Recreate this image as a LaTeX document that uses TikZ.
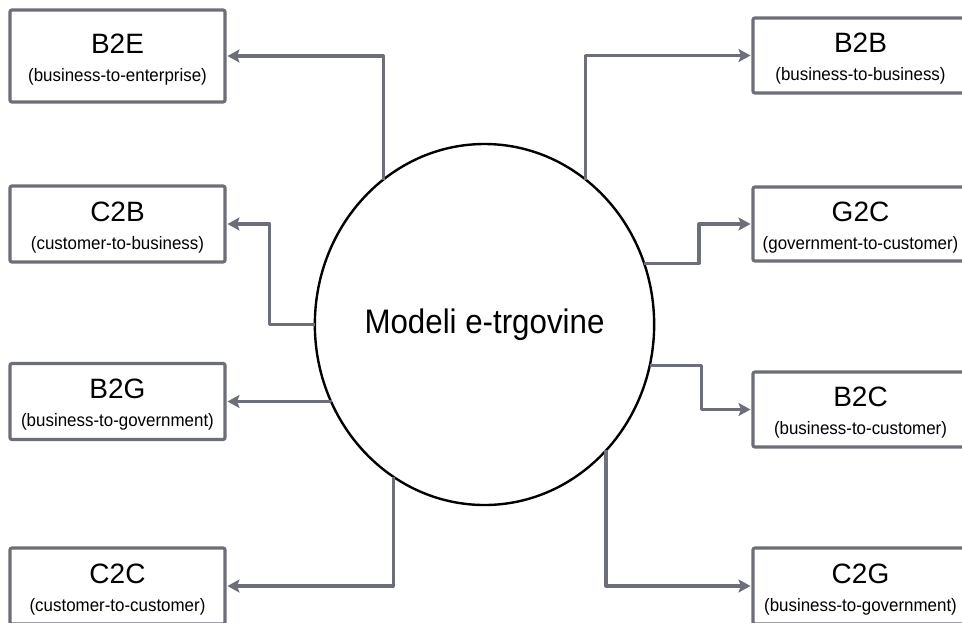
\documentclass[tikz,border=0pt]{standalone}
\usepackage{fontspec}
\setmainfont{Liberation Sans}
\newfontfamily\hubfont[FakeStretch=0.92]{Liberation Sans}
\newfontfamily\subfont[FakeStretch=0.94]{Liberation Sans}
\usetikzlibrary{shapes.geometric,arrows.meta,calc}
\definecolor{edgegray}{RGB}{108,111,120}

% one model box: name, centre x, centre y, height, title, subtitle
\newcommand\modelbox[6]{%
  \node[box, minimum height=#4] (#1) at (#2,#3) {};
  \node[titletext] (#1-title) at ($(#1.center)+(0,-3)$) {#5};
  \node[subtext] (#1-sub) at ($(#1.center)+(0,25)$) {#6};
}

\begin{document}
\begin{tikzpicture}[x=1pt,y=-1pt,
  box/.style={draw=edgegray, line width=3.2pt, rounded corners=2pt,
    minimum width=215pt, minimum height=76pt, inner sep=0pt, outer sep=2.5pt, fill=white},
  hub/.style={ellipse, draw=black, line width=2.4pt, minimum width=335pt,
    minimum height=361pt, inner sep=0pt, outer sep=0pt},
  conn/.style={draw=edgegray, line width=3.2pt, line join=round,
    -{Stealth[length=12pt,width=13pt,inset=2.5pt]}},
  titletext/.style={anchor=base, inner sep=0pt, font=\fontsize{28}{30}\selectfont},
  subtext/.style={anchor=base, inner sep=0pt, font=\subfont\fontsize{18}{20}\selectfont}]

\useasboundingbox (0,0) rectangle (962,622);
\clip (0,0) rectangle (962,622);
\fill[white] (0,0) rectangle (962,622);

% central hub
\node[hub, font=\hubfont\fontsize{34}{36}\selectfont] (ell) at (484.5,324.5) {Modeli e-trgovine};

% left column
\modelbox{b2e}{117.5}{56}{92}{B2E}{(business-to-enterprise)}
\modelbox{c2b}{117.5}{224}{76}{C2B}{(customer-to-business)}
\modelbox{b2g}{117.5}{401.5}{76}{B2G}{(business-to-government)}
\modelbox{c2c}{117.5}{586}{76}{C2C}{(customer-to-customer)}

% right column
\modelbox{b2b}{860.5}{55.5}{75}{B2B}{(business-to-business)}
\modelbox{g2c}{860.5}{224}{74}{G2C}{(government-to-customer)}
\modelbox{b2c}{860.5}{409.5}{75}{B2C}{(business-to-customer)}
\modelbox{c2g}{860.5}{586}{76}{C2G}{(business-to-government)}

% connectors
\draw[conn] (ell.125.25) |- (b2e);
\draw[conn] (ell.west) -- ++(-45,0) |- (c2b);
\draw[conn] (ell.206.9) |- (b2g);
\draw[conn] (ell.239.6) |- (c2c);
\draw[conn] (ell.55.6) |- (b2b);
\draw[conn] (ell.21.3) -- ++(55,0) |- (g2c);
\draw[conn] (ell.-14.3) -- ++(51.5,0) |- (b2c);
\draw[conn] (ell.-46.15) |- (c2g);
\end{tikzpicture}
\end{document}
